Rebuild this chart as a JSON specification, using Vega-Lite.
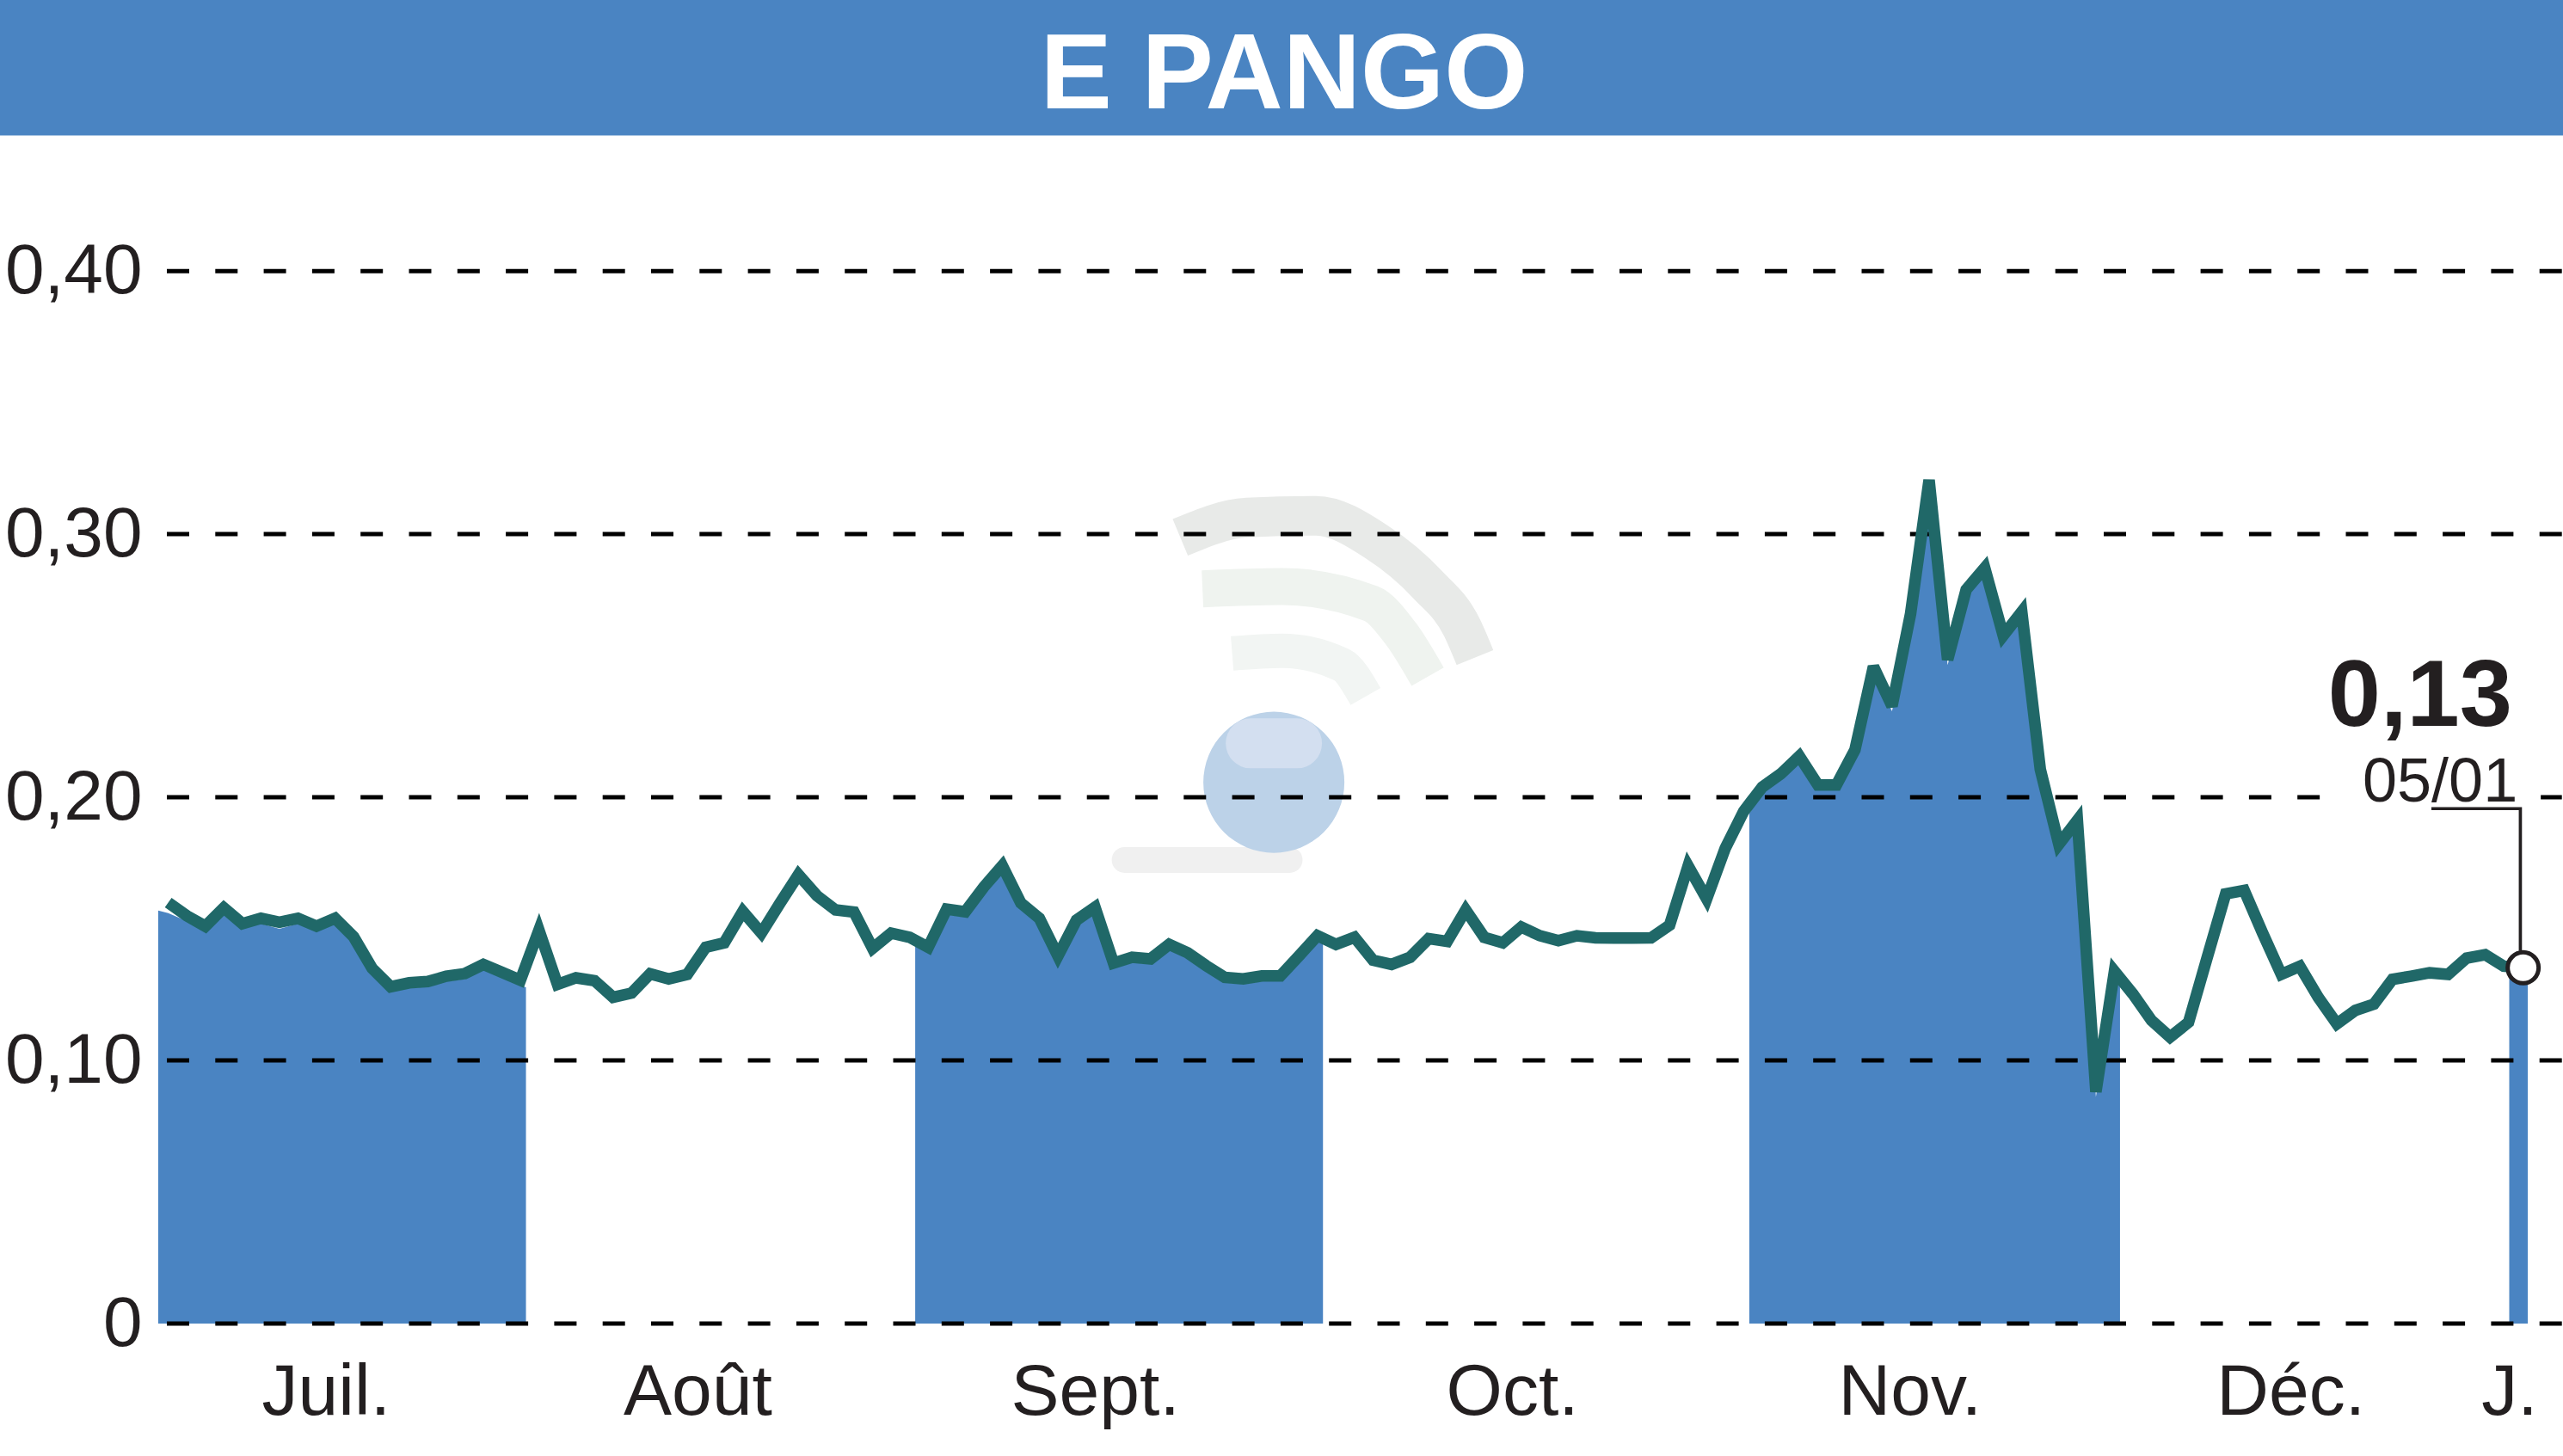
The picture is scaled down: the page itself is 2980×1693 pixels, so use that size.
{
"$schema":"https://vega.github.io/schema/vega-lite/v6.json",
"autosize":{"type":"none"},
"padding":{"left":194,"top":0,"right":0,"bottom":154},
"width":2786,"height":1539,
"background":"white",
"config":{"view":{"stroke":null}},
"datasets":{
"sessions":[
{"session":0,"value":0.160},{"session":1,"value":0.155},{"session":2,"value":0.151},{"session":3,"value":0.158},{"session":4,"value":0.152},{"session":5,"value":0.154},{"session":6,"value":0.1525},{"session":7,"value":0.154},{"session":8,"value":0.151},{"session":9,"value":0.154},
{"session":10,"value":0.147},{"session":11,"value":0.135},{"session":12,"value":0.128},{"session":13,"value":0.1295},{"session":14,"value":0.130},{"session":15,"value":0.132},{"session":16,"value":0.133},{"session":17,"value":0.1365},{"session":18,"value":0.1335},{"session":19,"value":0.1305},
{"session":20,"value":0.1495},{"session":21,"value":0.1289},{"session":22,"value":0.1314},{"session":23,"value":0.1303},{"session":24,"value":0.124},{"session":25,"value":0.1256},{"session":26,"value":0.1329},{"session":27,"value":0.131},{"session":28,"value":0.1327},{"session":29,"value":0.143},
{"session":30,"value":0.1447},{"session":31,"value":0.1566},{"session":32,"value":0.1484},{"session":33,"value":0.1597},{"session":34,"value":0.1706},{"session":35,"value":0.1626},{"session":36,"value":0.1572},{"session":37,"value":0.1564},{"session":38,"value":0.1426},{"session":39,"value":0.1484},
{"session":40,"value":0.1468},{"session":41,"value":0.143},{"session":42,"value":0.1575},{"session":43,"value":0.1565},{"session":44,"value":0.1659},{"session":45,"value":0.174},{"session":46,"value":0.1598},{"session":47,"value":0.154},{"session":48,"value":0.1397},{"session":49,"value":0.1533},
{"session":50,"value":0.1582},{"session":51,"value":0.137},{"session":52,"value":0.1392},{"session":53,"value":0.1386},{"session":54,"value":0.1441},{"session":55,"value":0.1409},{"session":56,"value":0.136},{"session":57,"value":0.1316},{"session":58,"value":0.131},{"session":59,"value":0.1321},
{"session":60,"value":0.1321},{"session":61,"value":0.1397},{"session":62,"value":0.1474},{"session":63,"value":0.1441},{"session":64,"value":0.1468},{"session":65,"value":0.1381},{"session":66,"value":0.1365},{"session":67,"value":0.1392},{"session":68,"value":0.1463},{"session":69,"value":0.1452},
{"session":70,"value":0.1572},{"session":71,"value":0.1468},{"session":72,"value":0.1447},{"session":73,"value":0.1507},{"session":74,"value":0.1474},{"session":75,"value":0.1455},{"session":76,"value":0.1474},{"session":77,"value":0.1466},{"session":78,"value":0.1465},{"session":79,"value":0.1465},
{"session":80,"value":0.1466},{"session":81,"value":0.1514},{"session":82,"value":0.1739},{"session":83,"value":0.1614},{"session":84,"value":0.1806},{"session":85,"value":0.1947},{"session":86,"value":0.2039},{"session":87,"value":0.2089},{"session":88,"value":0.2156},{"session":89,"value":0.2047},
{"session":90,"value":0.2047},{"session":91,"value":0.218},{"session":92,"value":0.2497},{"session":93,"value":0.2347},{"session":94,"value":0.2697},{"session":95,"value":0.3206},{"session":96,"value":0.2523},{"session":97,"value":0.2789},{"session":98,"value":0.2872},{"session":99,"value":0.2615},
{"session":100,"value":0.2705},{"session":101,"value":0.2106},{"session":102,"value":0.1821},{"session":103,"value":0.1913},{"session":104,"value":0.0881},{"session":105,"value":0.1339},{"session":106,"value":0.1252},{"session":107,"value":0.1152},{"session":108,"value":0.1089},{"session":109,"value":0.1145},
{"session":110,"value":0.139},{"session":111,"value":0.1633},{"session":112,"value":0.1646},{"session":113,"value":0.1483},{"session":114,"value":0.1327},{"session":115,"value":0.1358},{"session":116,"value":0.1239},{"session":117,"value":0.1139},{"session":118,"value":0.119},{"session":119,"value":0.1214},
{"session":120,"value":0.1308},{"session":121,"value":0.132},{"session":122,"value":0.1333},{"session":123,"value":0.1327},{"session":124,"value":0.1389},{"session":125,"value":0.1402},{"session":126,"value":0.1358},{"session":127,"value":0.1352}
],
"shaded":[
{"month":"Juil.","session":-0.54,"value":0.157},{"month":"Juil.","session":0,"value":0.156},{"month":"Juil.","session":1,"value":0.153},{"month":"Juil.","session":2,"value":0.149},{"month":"Juil.","session":3,"value":0.156},{"month":"Juil.","session":4,"value":0.15},{"month":"Juil.","session":5,"value":0.152},{"month":"Juil.","session":6,"value":0.15},{"month":"Juil.","session":7,"value":0.152},{"month":"Juil.","session":8,"value":0.149},{"month":"Juil.","session":9,"value":0.152},{"month":"Juil.","session":10,"value":0.145},{"month":"Juil.","session":11,"value":0.133},{"month":"Juil.","session":12,"value":0.126},{"month":"Juil.","session":13,"value":0.1275},{"month":"Juil.","session":14,"value":0.128},{"month":"Juil.","session":15,"value":0.13},{"month":"Juil.","session":16,"value":0.131},{"month":"Juil.","session":17,"value":0.1345},{"month":"Juil.","session":18,"value":0.1315},{"month":"Juil.","session":19,"value":0.1285},{"month":"Juil.","session":19.3,"value":0.1278},
{"month":"Sept.","session":40.3,"value":0.1435},{"month":"Sept.","session":41,"value":0.141},{"month":"Sept.","session":42,"value":0.1555},{"month":"Sept.","session":43,"value":0.1545},{"month":"Sept.","session":44,"value":0.1639},{"month":"Sept.","session":45,"value":0.172},{"month":"Sept.","session":46,"value":0.1578},{"month":"Sept.","session":47,"value":0.152},{"month":"Sept.","session":48,"value":0.1377},{"month":"Sept.","session":49,"value":0.1513},{"month":"Sept.","session":50,"value":0.1562},{"month":"Sept.","session":51,"value":0.135},{"month":"Sept.","session":52,"value":0.1372},{"month":"Sept.","session":53,"value":0.1366},{"month":"Sept.","session":54,"value":0.1421},{"month":"Sept.","session":55,"value":0.1389},{"month":"Sept.","session":56,"value":0.134},{"month":"Sept.","session":57,"value":0.1296},{"month":"Sept.","session":58,"value":0.129},{"month":"Sept.","session":59,"value":0.1301},{"month":"Sept.","session":60,"value":0.1301},{"month":"Sept.","session":61,"value":0.1377},{"month":"Sept.","session":62,"value":0.1454},{"month":"Sept.","session":62.3,"value":0.1445},
{"month":"Nov.","session":85.3,"value":0.1938},{"month":"Nov.","session":86,"value":0.2019},{"month":"Nov.","session":87,"value":0.2069},{"month":"Nov.","session":88,"value":0.2136},{"month":"Nov.","session":89,"value":0.2027},{"month":"Nov.","session":90,"value":0.2027},{"month":"Nov.","session":91,"value":0.216},{"month":"Nov.","session":92,"value":0.2477},{"month":"Nov.","session":93,"value":0.2327},{"month":"Nov.","session":94,"value":0.2677},{"month":"Nov.","session":95,"value":0.3186},{"month":"Nov.","session":96,"value":0.2503},{"month":"Nov.","session":97,"value":0.2769},{"month":"Nov.","session":98,"value":0.2852},{"month":"Nov.","session":99,"value":0.2595},{"month":"Nov.","session":100,"value":0.2685},{"month":"Nov.","session":101,"value":0.2086},{"month":"Nov.","session":102,"value":0.1801},{"month":"Nov.","session":103,"value":0.1893},{"month":"Nov.","session":104,"value":0.0861},{"month":"Nov.","session":105,"value":0.1319},{"month":"Nov.","session":105.3,"value":0.1305},
{"month":"J.","session":126.3,"value":0.1345},{"month":"J.","session":127.3,"value":0.1345}
],
"watermark":[
{"series":"outer","session":54.6,"value":0.2988},{"series":"outer","session":58.2,"value":0.3063},{"series":"outer","session":61.92,"value":0.307},{"series":"outer","session":65.17,"value":0.2972},{"series":"outer","session":67.95,"value":0.2808},{"series":"outer","session":69.8,"value":0.2645},{"series":"outer","session":70.5,"value":0.2531},
{"series":"middle","session":55.8,"value":0.2792},{"series":"middle","session":60.1,"value":0.2801},{"series":"middle","session":64.9,"value":0.2736},{"series":"middle","session":66.5,"value":0.2622},{"series":"middle","session":67.95,"value":0.2458},
{"series":"inner","session":57.4,"value":0.2547},{"series":"inner","session":60.1,"value":0.2557},{"series":"inner","session":63.3,"value":0.2504},{"series":"inner","session":64.6,"value":0.2383}
]
},
"encoding":{
"x":{"field":"session","type":"quantitative","scale":{"domain":[-0.0742,129.2],"nice":false,"zero":false},"title":null,
"axis":{"values":[8.5,28.55,50,72.5,93.95,114.5,126.3],"labelExpr":"{'8.5':'Juil.','28.55':'Août','50':'Sept.','72.5':'Oct.','93.95':'Nov.','114.5':'Déc.','126.3':'J.'}[datum.value]","domain":false,"ticks":false,"grid":false,"labelFont":"Liberation Sans","labelFontSize":84,"labelColor":"#231f20","labelBaseline":"alphabetic","labelPadding":105,"labelOverlap":false,"labelFlush":false,"labelBound":false,"labelAlign":"center","labelLimit":500}},
"y":{"field":"value","type":"quantitative","scale":{"domain":[0,0.503],"nice":false,"zero":false},"title":null,
"axis":{"values":[0,0.1,0.2,0.3,0.4],"labelExpr":"datum.value==0?'0':replace(format(datum.value,'.2f'),'.',',')","domain":false,"ticks":false,"grid":false,"labelFont":"Liberation Sans","labelFontSize":82,"labelColor":"#231f20","labelPadding":29,"labelOverlap":false,"labelBound":false,"labelAlign":"right","labelBaseline":"middle","labelLimit":500}}
},
"layer":[
{"data":{"values":[{"session":-9.08,"session2":129.2,"value":0.503,"value2":0.4515}]},"mark":{"type":"rect","color":"#4a84c2"},"encoding":{"x2":{"field":"session2"},"y2":{"field":"value2"}}},
{"data":{"values":[{"session":60.2,"value":0.4619,"label":"E PANGO"}]},"mark":{"type":"text","align":"center","baseline":"alphabetic","font":"Liberation Sans","fontWeight":"bold","fontSize":125,"color":"white"},"encoding":{"text":{"field":"label"}}},
{"data":{"name":"watermark"},"mark":{"type":"line","strokeCap":"butt","interpolate":"monotone"},"encoding":{"detail":{"field":"series"},"order":{"field":"session"},"color":{"field":"series","type":"nominal","legend":null,"scale":{"domain":["outer","middle","inner"],"range":["#e8eae8","#eff3ef","#f2f5f3"]}},"strokeWidth":{"field":"series","type":"nominal","legend":null,"scale":{"domain":["outer","middle","inner"],"range":[46,40,38]}}}},
{"data":{"values":[{"session":51.6,"value":0.1762},{"session":60.5,"value":0.1762}]},"mark":{"type":"line","color":"#f0f0f0","strokeWidth":30,"strokeCap":"round"}},
{"data":{"values":[{"session":59.65,"value":0.2057}]},"mark":{"type":"point","filled":true,"shape":"circle","color":"#bcd2e8","opacity":1,"size":26896}},
{"data":{"values":[{"session":58.4,"value":0.2205},{"session":60.9,"value":0.2205}]},"mark":{"type":"line","color":"#d3dff0","strokeWidth":58,"strokeCap":"round"}},
{"data":{"name":"shaded"},"mark":{"type":"area","fill":"#4a84c2","opacity":1},"encoding":{"detail":{"field":"month","type":"nominal"},"y":{"field":"value","type":"quantitative","stack":null,"scale":{"domain":[0,0.503],"nice":false,"zero":false}}}},
{"data":{"values":[{"value":0},{"value":0.1},{"value":0.2},{"value":0.3},{"value":0.4}]},"mark":{"type":"rule","color":"black","strokeWidth":5,"strokeDash":[26,30.3]},"encoding":{"x":{"value":0},"x2":{"value":2786}}},
{"data":{"values":[{"session":116.1,"session2":128,"value":0.2014,"value2":0.1986}]},"mark":{"type":"rect","color":"white"},"encoding":{"x2":{"field":"session2"},"y2":{"field":"value2"}}},
{"data":{"name":"sessions"},"mark":{"type":"line","color":"#206868","strokeWidth":13.5,"strokeJoin":"miter","strokeMiterLimit":3,"strokeCap":"butt"}},
{"data":{"values":[{"session":122.1,"value":0.1957,"ord":1},{"session":126.9,"value":0.1957,"ord":2},{"session":126.9,"value":0.1416,"ord":3}]},"mark":{"type":"line","color":"#231f20","strokeWidth":3.7,"strokeJoin":"miter"},"encoding":{"order":{"field":"ord"}}},
{"data":{"values":[{"session":127.05,"value":0.1352}]},"mark":{"type":"point","shape":"circle","filled":true,"fill":"white","stroke":"#231f20","strokeWidth":5,"opacity":1,"size":1296}},
{"data":{"values":[{"session":126.46,"value":0.2272,"label":"0,13"}]},"mark":{"type":"text","align":"right","baseline":"alphabetic","font":"Liberation Sans","fontWeight":"bold","fontSize":110,"color":"#231f20"},"encoding":{"text":{"field":"label"}}},
{"data":{"values":[{"session":126.75,"value":0.1985,"label":"05/01"}]},"mark":{"type":"text","align":"right","baseline":"alphabetic","font":"Liberation Sans","fontSize":72,"color":"#231f20"},"encoding":{"text":{"field":"label"}}}
]
}
